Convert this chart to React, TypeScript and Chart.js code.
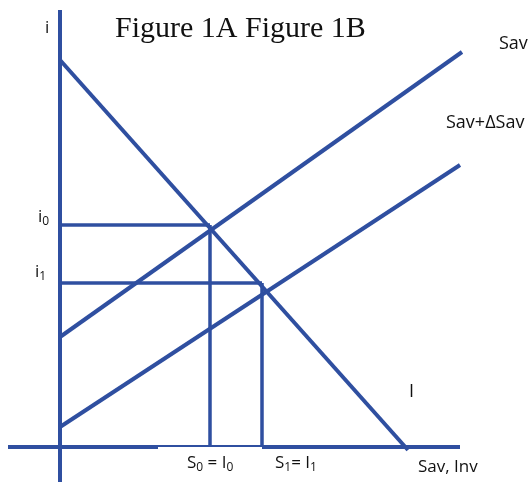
import React, { useEffect, useRef } from "react";
import { Chart, registerables } from "chart.js";

Chart.register(...registerables);

const BLUE = "#2F4FA0";

// Curves (x = Sav/Inv, y = i)
const investmentCurve = [
  { x: 0, y: 38.7 },
  { x: 34.8, y: -0.3 },
];
const savingCurve = [
  { x: 0, y: 11.0 },
  { x: 40.2, y: 39.5 },
];
const savingShiftedCurve = [
  { x: 0, y: 2.0 },
  { x: 40.0, y: 28.2 },
];

// Equilibria
const eqRates = [22.2, 16.4]; // i0, i1
const eqQuantities = [15.0, 20.2]; // S0=I0, S1=I1

// Axes extents
const yAxisLine = [
  { x: 0, y: 43.7 },
  { x: 0, y: -3.6 },
];
const xAxisLeft = [
  { x: -5.2, y: 0 },
  { x: 9.8, y: 0 },
];
const xAxisMid = [
  { x: 9.8, y: 0.1 },
  { x: 20.2, y: 0.1 },
];
const xAxisRight = [
  { x: 20.2, y: 0 },
  { x: 40.0, y: 0 },
];

// Labels: parts with optional subscript
type Part = { t: string; sub?: boolean };
type Label = { parts: Part[]; x: number; y: number; font: string; size: number };

const SANS = '"Open Sans", sans-serif';
const SERIF = '"Liberation Serif", serif';

const labels: Label[] = [
  { parts: [{ t: "Figure 1A Figure 1B" }], x: 5.5, y: 41.0, font: SERIF, size: 30 },
  { parts: [{ t: "i" }], x: -1.5, y: 41.4, font: SANS, size: 17 },
  { parts: [{ t: "i" }, { t: "0", sub: true }], x: -2.2, y: 22.5, font: SANS, size: 17 },
  { parts: [{ t: "i" }, { t: "1", sub: true }], x: -2.5, y: 17.0, font: SANS, size: 17 },
  { parts: [{ t: "Sav" }], x: 43.9, y: 39.8, font: SANS, size: 18 },
  { parts: [{ t: "Sav+ΔSav" }], x: 38.6, y: 31.9, font: SANS, size: 18 },
  { parts: [{ t: "I" }], x: 34.9, y: 5.0, font: SANS, size: 18 },
  { parts: [{ t: "Sav, Inv" }], x: 35.8, y: -2.5, font: SANS, size: 17 },
  { parts: [{ t: "S" }, { t: "0", sub: true }, { t: " = I" }, { t: "0", sub: true }], x: 12.7, y: -2.1, font: SANS, size: 17 },
  { parts: [{ t: "S" }, { t: "1", sub: true }, { t: "= I" }, { t: "1", sub: true }], x: 21.5, y: -2.1, font: SANS, size: 17 },
];

const labelPlugin = {
  id: "labels",
  afterDatasetsDraw(chart: any) {
    const ctx = chart.ctx as CanvasRenderingContext2D;
    const xs = chart.scales.x;
    const ys = chart.scales.y;
    ctx.save();
    ctx.fillStyle = "#111";
    ctx.textBaseline = "alphabetic";
    ctx.textAlign = "left";
    for (const l of labels) {
      let px = xs.getPixelForValue(l.x);
      const py = ys.getPixelForValue(l.y);
      for (const p of l.parts) {
        const size = p.sub ? Math.round(l.size * 0.72) : l.size;
        ctx.font = `${size}px ${l.font}`;
        ctx.fillText(p.t, px, p.sub ? py + l.size * 0.18 : py);
        px += ctx.measureText(p.t).width;
      }
    }
    ctx.restore();
  },
};

function seg(data: { x: number; y: number }[], width: number) {
  return {
    data,
    borderColor: BLUE,
    backgroundColor: BLUE,
    borderWidth: width,
    pointRadius: 0,
    showLine: true,
    tension: 0,
    fill: false,
    borderCapStyle: "butt" as const,
  };
}

export default function App() {
  const ref = useRef<HTMLCanvasElement | null>(null);
  useEffect(() => {
    if (!ref.current) return;
    const [i0, i1] = eqRates;
    const [q0, q1] = eqQuantities;
    const chart = new Chart(ref.current, {
      type: "scatter",
      data: {
        datasets: [
          seg(yAxisLine, 4),
          seg(xAxisLeft, 4),
          seg(xAxisMid, 2),
          seg(xAxisRight, 4),
          seg([{ x: 0, y: i0 }, { x: q0, y: i0 }], 3.5),
          seg([{ x: 0, y: i1 }, { x: q1, y: i1 }], 3.5),
          seg([{ x: q0, y: i0 }, { x: q0, y: 0 }], 3.5),
          seg([{ x: q1, y: i1 }, { x: q1, y: 0 }], 3.5),
          seg(investmentCurve, 4),
          seg(savingCurve, 4),
          seg(savingShiftedCurve, 4),
        ],
      },
      options: {
        responsive: false,
        animation: false,
        layout: { padding: 0 },
        plugins: { legend: { display: false }, tooltip: { enabled: false }, title: { display: false } },
        events: [],
        scales: {
          x: { type: "linear", min: -6.0, max: 47.1, display: false },
          y: { type: "linear", min: -3.5, max: 44.7, display: false },
        },
      },
      plugins: [labelPlugin],
    });
    return () => chart.destroy();
  }, []);
  return (
    <div style={{ position: "fixed", left: 0, top: 0, width: 531, height: 482, background: "#fff" }}>
      <canvas ref={ref} width={531} height={482} />
    </div>
  );
}
